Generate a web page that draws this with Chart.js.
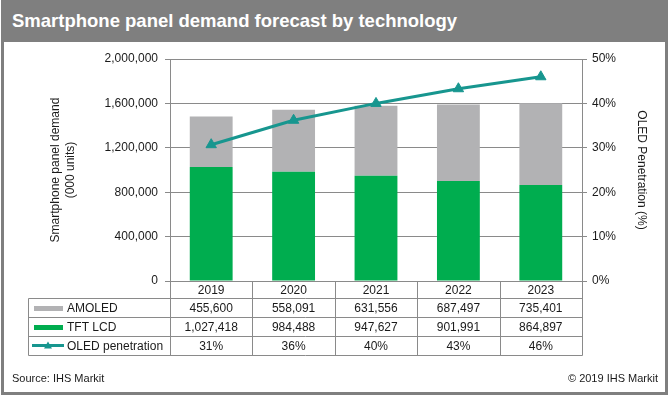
<!DOCTYPE html>
<html>
<head>
<meta charset="utf-8">
<script src="https://cdn.jsdelivr.net/npm/chart.js@4.4.1/dist/chart.umd.min.js"></script>
<style>
  html, body { margin: 0; padding: 0; background: #fff; width: 671px; height: 399px; overflow: hidden; }
  body { position: relative; font-family: "Liberation Sans", Arial, sans-serif; }
  #frame { position: absolute; left: 1px; top: 0; width: 661px; height: 392px; border: 3px solid #7f7f7f; border-top: none; }
  #titlebar { position: absolute; left: 1px; top: 0; width: 667px; height: 42px; background: #7f7f7f; }
  #title { position: absolute; left: 12px; top: 10px; color: #fff; font-weight: bold; font-size: 18.5px; white-space: nowrap; }
  #source { position: absolute; left: 12px; top: 372px; font-size: 11px; color: #1a1a1a; }
  #copy { position: absolute; right: 13px; top: 372px; font-size: 11px; color: #1a1a1a; }
  canvas { position: absolute; left: 0; top: 0; }
</style>
</head>
<body>
<div id="frame"></div>
<div id="titlebar"></div>
<div id="title">Smartphone panel demand forecast by technology</div>
<canvas id="c" width="671" height="399"></canvas>
<div id="source">Source: IHS Markit</div>
<div id="copy">© 2019 IHS Markit</div>
<script>
// ---- data ----
const years = ['2019', '2020', '2021', '2022', '2023'];
const amoled = [455600, 558091, 631556, 687497, 735401];
const tftLcd = [1027418, 984488, 947627, 901991, 864897];
const oledPenetration = [30.7, 36.2, 40.0, 43.3, 46.0];
const oledPenetrationLabels = ['31%', '36%', '40%', '43%', '46%'];
const seriesNames = ['AMOLED', 'TFT LCD', 'OLED penetration'];
const leftAxisTitle = ['Smartphone panel demand', '(000 units)'];
const rightAxisTitle = 'OLED Penetration (%)';

// ---- styles ----
const GRAY = '#b2b2b4';
const GREEN = '#00ad4f';
const TEAL = '#17968f';
const LINE = '#8a8a8a';
const TXT = '#1a1a1a';
const FONT = '"Liberation Sans", Arial, sans-serif';

const fmt = v => v.toLocaleString('en-US');

const tablePlugin = {
  id: 'dataTable',
  afterDraw(chart) {
    const ctx = chart.ctx;
    const xs = chart.scales.x;
    const area = chart.chartArea;
    const n = years.length;
    const step = xs.getPixelForValue(1) - xs.getPixelForValue(0);
    const bounds = [];
    for (let i = 0; i <= n; i++) bounds.push(xs.getPixelForValue(0) - step / 2 + i * step);
    const yTop = area.bottom;
    const yRow = [yTop + 17, yTop + 36, yTop + 55, yTop + 74];
    const leftX = 28;
    const px = v => Math.round(v) + 0.5;

    ctx.save();
    ctx.strokeStyle = LINE;
    ctx.lineWidth = 1;
    ctx.beginPath();
    for (let i = 0; i <= n; i++) {
      ctx.moveTo(px(bounds[i]), yTop);
      ctx.lineTo(px(bounds[i]), px(yRow[3]));
    }
    ctx.moveTo(px(leftX), px(yRow[0]));
    ctx.lineTo(px(leftX), px(yRow[3]));
    for (let r = 0; r < 4; r++) {
      ctx.moveTo(px(leftX), px(yRow[r]));
      ctx.lineTo(px(bounds[n]), px(yRow[r]));
    }
    ctx.stroke();

    ctx.fillStyle = TXT;
    ctx.font = '12px ' + FONT;
    ctx.textAlign = 'center';
    ctx.textBaseline = 'middle';
    const rowsText = [amoled.map(fmt), tftLcd.map(fmt), oledPenetrationLabels];
    for (let i = 0; i < n; i++) {
      const cx = (bounds[i] + bounds[i + 1]) / 2;
      ctx.fillText(years[i], cx, (yTop + yRow[0]) / 2 + 1);
      for (let r = 0; r < 3; r++) {
        ctx.fillText(rowsText[r][i], cx, (yRow[r] + yRow[r + 1]) / 2 + 1);
      }
    }
    ctx.textAlign = 'left';
    for (let r = 0; r < 3; r++) {
      const cy = (yRow[r] + yRow[r + 1]) / 2;
      ctx.fillStyle = TXT;
      ctx.fillText(seriesNames[r], 67, cy + 1);
      if (r === 0) { ctx.fillStyle = GRAY; ctx.fillRect(34, Math.round(cy) - 2, 29, 5); }
      if (r === 1) { ctx.fillStyle = GREEN; ctx.fillRect(34, Math.round(cy) - 2, 29, 5); }
      if (r === 2) {
        ctx.strokeStyle = TEAL; ctx.lineWidth = 3;
        ctx.beginPath(); ctx.moveTo(32, cy); ctx.lineTo(64, cy); ctx.stroke();
        ctx.fillStyle = TEAL;
        ctx.beginPath();
        ctx.moveTo(48, cy - 4); ctx.lineTo(52, cy + 3); ctx.lineTo(44, cy + 3); ctx.closePath(); ctx.fill();
      }
    }
    ctx.restore();
  }
};

new Chart(document.getElementById('c'), {
  data: {
    labels: years,
    datasets: [
      {
        type: 'line', label: seriesNames[2], data: oledPenetration, yAxisID: 'y2', order: 0,
        borderColor: TEAL, backgroundColor: TEAL, borderWidth: 3,
        pointStyle: 'triangle', pointRadius: 6, pointHoverRadius: 6,
        pointBackgroundColor: TEAL, pointBorderColor: TEAL, pointBorderWidth: 1,
        tension: 0
      },
      {
        type: 'bar', label: seriesNames[1], data: tftLcd, yAxisID: 'y', order: 1,
        backgroundColor: GREEN, barPercentage: 0.52, categoryPercentage: 1
      },
      {
        type: 'bar', label: seriesNames[0], data: amoled, yAxisID: 'y', order: 2,
        backgroundColor: GRAY, barPercentage: 0.52, categoryPercentage: 1
      }
    ]
  },
  options: {
    responsive: false,
    animation: false,
    devicePixelRatio: 1,
    layout: { padding: { top: 59, left: 0, right: 0, bottom: 0 } },
    plugins: { legend: { display: false }, tooltip: { enabled: false } },
    scales: {
      x: {
        type: 'category', stacked: true, offset: true,
        grid: { display: false }, border: { display: false },
        ticks: { display: false },
        afterFit: s => { s.height = 118; }
      },
      y: {
        position: 'left', stacked: true, min: 0, max: 2000000,
        ticks: { stepSize: 400000, callback: v => fmt(v), color: TXT, font: { family: FONT, size: 12 }, padding: 7 },
        grid: { color: LINE, tickLength: 5, lineWidth: 1 },
        border: { color: LINE },
        title: { display: true, text: leftAxisTitle, color: TXT, font: { family: FONT, size: 12, lineHeight: 1.25 }, padding: { top: 48, bottom: 0 } },
        afterFit: s => { s.width = 170; }
      },
      y2: {
        position: 'right', min: 0, max: 50,
        ticks: { stepSize: 10, callback: v => v + '%', color: TXT, font: { family: FONT, size: 12 }, padding: 5 },
        grid: { drawOnChartArea: false, color: LINE, tickLength: 5 },
        border: { color: LINE },
        title: { display: true, text: rightAxisTitle, color: TXT, font: { family: FONT, size: 12 }, padding: { top: 22, bottom: 0 } },
        afterFit: s => { s.width = 89; }
      }
    }
  },
  plugins: [tablePlugin]
});
</script>
</body>
</html>
